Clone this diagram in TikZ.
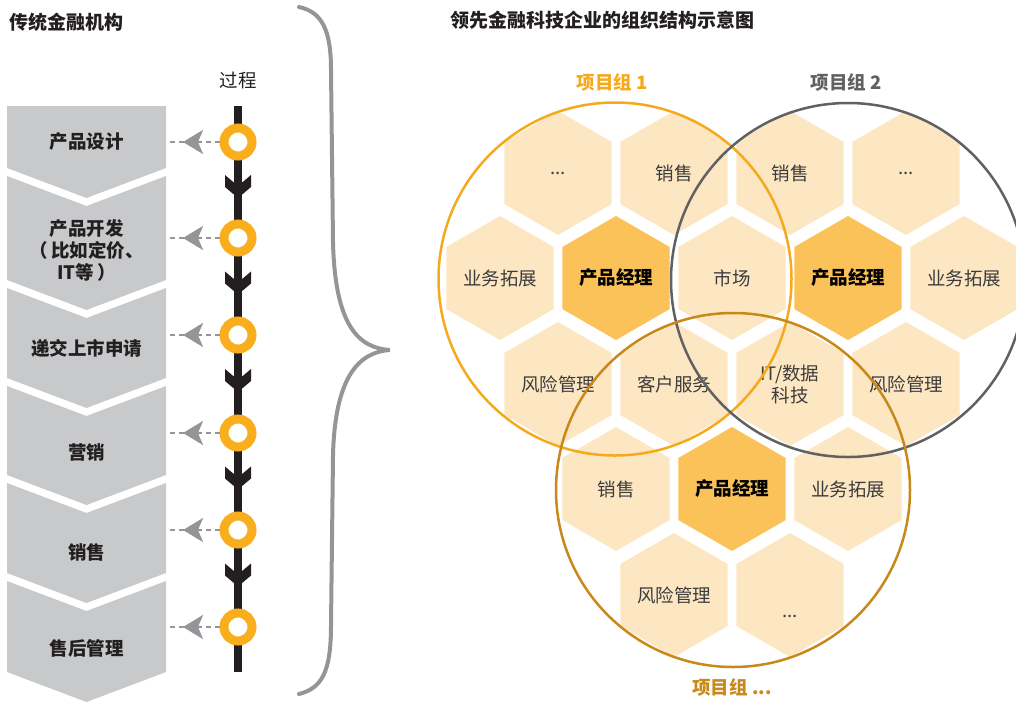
\documentclass[tikz,border=0pt]{standalone}
\usepackage{fontspec}
\setmainfont{Noto Sans CJK SC}
\usetikzlibrary{shapes.geometric,arrows.meta,decorations.markings}
\definecolor{hexlight}{RGB}{253,230,194}
\definecolor{hexdark}{RGB}{251,194,90}
\definecolor{grpone}{RGB}{245,170,30}
\definecolor{grptwo}{RGB}{96,97,99}
\definecolor{grpthree}{RGB}{200,136,26}
\definecolor{ringorange}{RGB}{248,174,29}
\definecolor{boxgray}{RGB}{200,201,203}
\definecolor{midgray}{RGB}{147,149,152}
\definecolor{txtgray}{RGB}{60,60,60}
\definecolor{procblack}{RGB}{35,31,32}
\newcommand\hexfont{\fontsize{18.5}{22}\selectfont}
\newcommand\boxfont{\fontsize{18.5}{22}\selectfont\bfseries}
\begin{document}
\begin{tikzpicture}[x=1pt,y=-1pt,
  boxnode/.style={rectangle, minimum width=159pt, inner sep=0pt, outer sep=0pt},
  boxtext/.style={font=\boxfont, align=center, text=procblack},
  ring/.style={circle, draw=ringorange, line width=9pt, fill=white, minimum size=28pt, inner sep=0pt},
  procline/.style={line width=8pt, draw=procblack},
  procarrow/.style={fill=procblack},
  dasharrow/.style={draw=midgray, line width=2.5pt, dash pattern=on 5pt off 4pt,
    postaction={decorate},
    decoration={markings, mark=at position 36.5pt with {\arrow[midgray]{Stealth[length=20pt,width=24pt,inset=5pt]}}}},
  brace/.style={draw=midgray, line width=4pt, line cap=round},
  hexa/.style={regular polygon, regular polygon sides=6, shape border rotate=90,
    minimum size=124pt, inner sep=0pt, outer sep=0pt, text=txtgray, font=\hexfont, align=center},
  hexl/.style={hexa, fill=hexlight},
  hexd/.style={hexa, fill=hexdark, text=black, font=\hexfont\bfseries},
  hextext/.style={text=txtgray, font=\hexfont},
  grpcircle/.style={circle, inner sep=0pt, line width=2.5pt},
  grplabel/.style={font=\hexfont\bfseries},
  title/.style={font=\fontsize{19}{22}\selectfont\bfseries, text=procblack, anchor=west}
]
\useasboundingbox (0,0) rectangle (1016,702);
\clip (0,0) rectangle (1016,702);

% titles
\node[title] (tleft) at (6,22) {传统金融机构};
\node[title] (tright) at (447,20) {领先金融科技企业的组织结构示意图};

% chevron boxes
\node[boxnode, minimum height=62pt] (b1) at (86.5,137) {};
\node[boxnode, minimum height=104pt] (b2) at (86.5,228) {};
\node[boxnode, minimum height=90pt] (b3) at (86.5,333) {};
\node[boxnode, minimum height=89pt] (b4) at (86.5,430.5) {};
\node[boxnode, minimum height=90pt] (b5) at (86.5,528) {};
\node[boxnode, minimum height=91pt] (b6) at (86.5,626.5) {};
\fill[boxgray] (b1.north west) -- (b1.north east) -- (b1.south east) -- ([yshift=-30pt]b1.south) -- (b1.south west) -- cycle;
\foreach \b in {b2,b3,b4,b5,b6}{
  \fill[boxgray] (\b.north west) -- ([yshift=-30pt]\b.north) -- (\b.north east) -- (\b.south east) -- ([yshift=-30pt]\b.south) -- (\b.south west) -- cycle;
}
\node[boxtext] (l1) at (86.5,142) {产品设计};
\node[boxtext] (l2) at (86.5,250) {产品开发\\（\,比如定价、\\IT等\,）};
\node[boxtext] (l3) at (86.5,348) {递交上市申请};
\node[boxtext] (l4) at (86.5,452) {营销};
\node[boxtext] (l5) at (86.5,552) {销售};
\node[boxtext] (l6) at (86.5,648) {售后管理};

% process line
\node[font=\hexfont, text=procblack] (proc) at (238,80) {过程};
\coordinate (ptop) at (238,106);
\coordinate (pbot) at (238,672);
\draw[procline] (ptop) -- (pbot);
\foreach \m in {190,286.5,384,481.5,578.5}{
  \fill[procarrow, shift={(238,\m)}] (-13,-15) -- (0,-4) -- (13,-15) -- (13,-3) -- (0,8) -- (-13,-3) -- cycle;
}
\node[ring] (r1) at (238,142) {};
\node[ring] (r2) at (238,238) {};
\node[ring] (r3) at (238,335) {};
\node[ring] (r4) at (238,433) {};
\node[ring] (r5) at (238,530) {};
\node[ring] (r6) at (238,627) {};
\draw[dasharrow] (r1) -- (r1 -| b1.east);
\draw[dasharrow] (r2) -- (r2 -| b2.east);
\draw[dasharrow] (r3) -- (r3 -| b3.east);
\draw[dasharrow] (r4) -- (r4 -| b4.east);
\draw[dasharrow] (r5) -- (r5 -| b5.east);
\draw[dasharrow] (r6) -- (r6 -| b6.east);

% brace
\draw[brace] (299,7) .. controls (322,12) and (331,30) .. (331,70) -- (333,242)
  .. controls (335,325) and (358,348) .. (390,350)
  .. controls (358,352) and (335,378) .. (333,455) -- (331,625)
  .. controls (331,672) and (322,688) .. (299,694);

% hexagons
\node[hexl] (h11) at (558,173) {...};
\node[hexl] (h12) at (674,173) {销售};
\node[hexl] (h13) at (790,173) {销售};
\node[hexl] (h14) at (906,173) {...};
\node[hexl] (h21) at (500,278) {业务拓展};
\node[hexd] (h22) at (616,278) {产品经理};
\node[hexl] (h23) at (732,278) {市场};
\node[hexd] (h24) at (848,278) {产品经理};
\node[hexl] (h25) at (964,278) {业务拓展};
\node[hexl] (h31) at (558,384) {风险管理};
\node[hexl] (h32) at (674,384) {客户服务};
\node[hexl] (h33) at (790,384) {IT/数据\\科技};
\node[hexl] (h34) at (906,384) {风险管理};
\node[hexl] (h41) at (616,489) {销售};
\node[hexd] (h42) at (732,489) {产品经理};
\node[hexl] (h43) at (848,489) {业务拓展};
\node[hexl] (h51) at (674,595) {风险管理};
\node[hexl] (h52) at (790,595) {};
\node[hextext] (h52t) at (790,616) {...};

% group circles
\node[grpcircle, draw=grpone, minimum size=353pt] (c1) at (615,279) {};
\node[grpcircle, draw=grptwo, minimum size=354pt] (c2) at (848,280) {};
\node[grpcircle, draw=grpthree, minimum size=354pt] (c3) at (733,490) {};

% group labels
\node[grplabel, text=grpone] (g1) at (612,82) {项目组 1};
\node[grplabel, text=grptwo] (g2) at (846,82) {项目组 2};
\node[grplabel, text=grpthree] (g3) at (732,687) {项目组 ...};
\end{tikzpicture}
\end{document}
